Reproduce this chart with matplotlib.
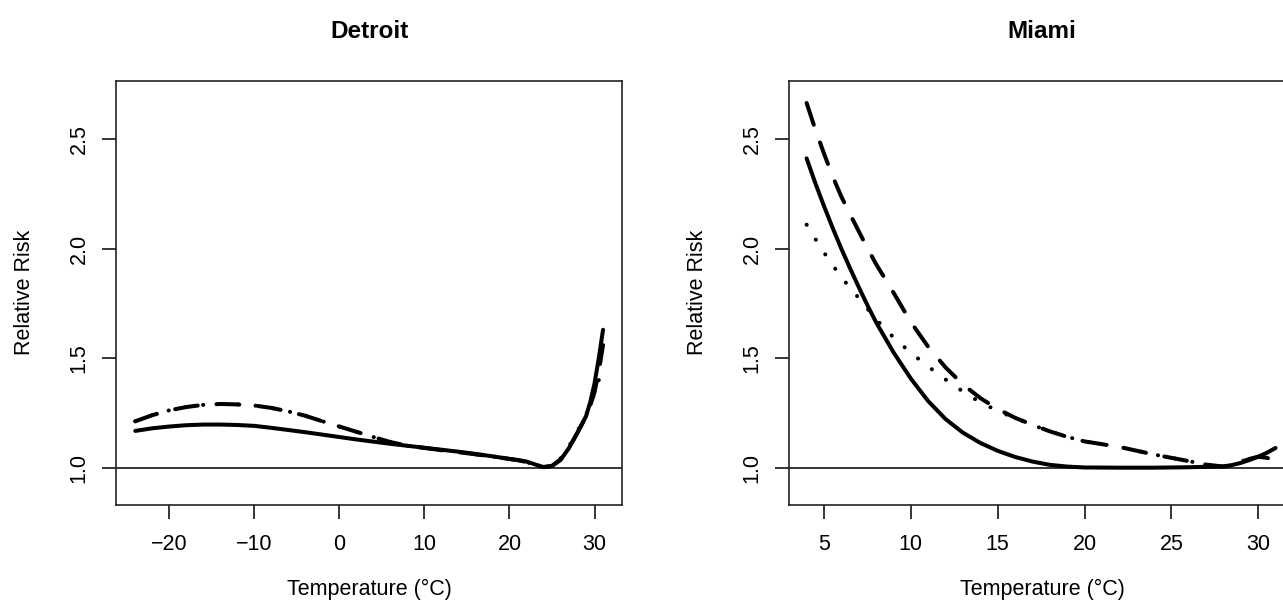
import numpy as np
import matplotlib
matplotlib.use('Agg')
import matplotlib.pyplot as plt

plt.rcParams['font.family'] = ['Liberation Sans', 'DejaVu Sans']
plt.rcParams['lines.scale_dashes'] = False

# Detroit curves
detroit_temp = [-24, -22, -20, -18, -16, -14, -12, -10, -8, -6, -4, -2, 0, 2, 4, 6, 8,
                10, 12, 14, 16, 18, 20, 21, 22, 23, 24, 25, 26, 27, 28, 29, 29.5, 30, 30.5, 31]
detroit_solid = [1.168, 1.180, 1.188, 1.194, 1.197, 1.197, 1.195, 1.191, 1.182, 1.172, 1.162,
                 1.151, 1.140, 1.129, 1.119, 1.109, 1.100, 1.091, 1.082, 1.073, 1.063, 1.052,
                 1.040, 1.035, 1.028, 1.015, 1.003, 1.008, 1.035, 1.090, 1.160, 1.235, 1.300,
                 1.385, 1.500, 1.630]
detroit_dashed = [1.212, 1.240, 1.262, 1.277, 1.287, 1.291, 1.289, 1.284, 1.273, 1.257, 1.237,
                  1.212, 1.188, 1.164, 1.140, 1.117, 1.100, 1.090, 1.080, 1.071, 1.061, 1.051,
                  1.040, 1.034, 1.026, 1.013, 1.002, 1.008, 1.038, 1.092, 1.160, 1.235, 1.285,
                  1.345, 1.440, 1.560]
detroit_dotted = [1.212, 1.240, 1.262, 1.277, 1.287, 1.291, 1.289, 1.284, 1.273, 1.257, 1.237,
                  1.212, 1.188, 1.164, 1.140, 1.117, 1.100, 1.090, 1.080, 1.071, 1.061, 1.051,
                  1.040, 1.034, 1.026, 1.013, 1.002, 1.010, 1.042, 1.098, 1.168, 1.240, 1.290,
                  1.340, 1.400, 1.470]

# Miami curves
miami_temp = [4, 4.5, 5, 5.5, 6, 6.5, 7, 7.5, 8, 9, 10, 11, 12, 13, 14, 15, 16, 17, 18, 19,
              20, 22, 24, 26, 27, 28, 28.5, 29, 29.5, 30, 30.5, 31]
miami_solid = [2.413, 2.300, 2.195, 2.095, 2.000, 1.911, 1.825, 1.742, 1.664, 1.527, 1.407,
               1.304, 1.222, 1.160, 1.113, 1.077, 1.049, 1.028, 1.013, 1.005, 1.001, 1.000,
               1.000, 1.002, 1.004, 1.006, 1.012, 1.022, 1.035, 1.050, 1.068, 1.090]
miami_dashed = [2.666, 2.545, 2.435, 2.330, 2.238, 2.158, 2.080, 2.003, 1.930, 1.800, 1.665,
                1.552, 1.458, 1.380, 1.318, 1.268, 1.228, 1.196, 1.166, 1.141, 1.120, 1.095,
                1.060, 1.030, 1.014, 1.005, 1.010, 1.025, 1.040, 1.050, 1.045, 1.032]
miami_dotted = [2.110, 2.045, 1.983, 1.925, 1.870, 1.822, 1.775, 1.726, 1.678, 1.595, 1.525,
                1.462, 1.403, 1.348, 1.298, 1.260, 1.226, 1.195, 1.166, 1.141, 1.120, 1.095,
                1.060, 1.030, 1.014, 1.005, 1.012, 1.028, 1.042, 1.050, 1.042, 1.030]

detroit_xticks = [-20, -10, 0, 10, 20, 30]
miami_xticks = [5, 10, 15, 20, 25, 30]
yticks = [1.0, 1.5, 2.0, 2.5]

FS = 15.5
LW = 2.9


def draw_panel(ax, title, temp, solid, dashed, dotted, xticks, xlim):
    ax.axhline(1.0, color='black', lw=1.1)
    ax.plot(temp, dotted, color='black', lw=LW, dashes=(0.1, 12.5),
            dash_capstyle='round', solid_capstyle='round')
    ax.plot(temp, dashed, color='black', lw=LW, dashes=(16.5, 13.5),
            dash_capstyle='round')
    ax.plot(temp, solid, color='black', lw=LW, solid_capstyle='round')

    ax.set_xlim(*xlim)
    ax.set_ylim(0.8296, 2.7677)
    ax.set_xticks(xticks)
    ax.set_xticklabels([str(t).replace('-', '\u2212') for t in xticks], fontsize=FS)
    ax.set_yticks(yticks)
    ax.set_yticklabels(['%.1f' % v for v in yticks], fontsize=FS, rotation=90, va='center')
    ax.tick_params(direction='out', length=10, width=1.1, color='black')
    ax.tick_params(axis='x', pad=11)
    ax.tick_params(axis='y', pad=9)
    for sp in ax.spines.values():
        sp.set_linewidth(1.2)
        sp.set_color('#222222')

    ax.set_xlabel('Temperature (\u00b0C)', fontsize=FS)
    ax.xaxis.set_label_coords(0.5, -0.200)
    ax.xaxis.label.set_va('center')
    ax.set_ylabel('Relative Risk', fontsize=FS)
    ax.yaxis.set_label_coords(-0.180, 0.5)
    ax.yaxis.label.set_va('center')
    ax.text(0.5, 1.117, title, transform=ax.transAxes, ha='center', va='center',
            fontsize=17.5, fontweight='bold')


fig = plt.figure(figsize=(12.83, 6.06), dpi=100)
ax1 = fig.add_axes([116 / 1283, 0.1667, 506 / 1283, 0.7001])
ax2 = fig.add_axes([789 / 1283, 0.1667, 506 / 1283, 0.7001])

draw_panel(ax1, 'Detroit', detroit_temp, detroit_solid, detroit_dashed, detroit_dotted,
           detroit_xticks, (-26.27, 33.23))
draw_panel(ax2, 'Miami', miami_temp, miami_solid, miami_dashed, miami_dotted,
           miami_xticks, (2.985, 32.12))

fig.savefig('out.png', dpi=100)
